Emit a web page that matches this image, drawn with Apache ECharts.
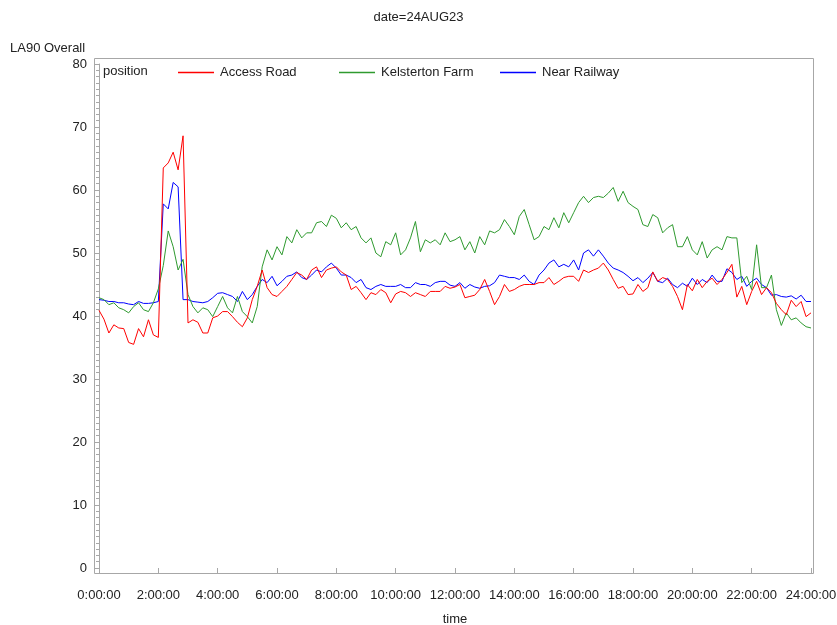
<!DOCTYPE html>
<html>
<head>
<meta charset="utf-8">
<script src="https://cdn.jsdelivr.net/npm/echarts@6/dist/echarts.min.js"></script>
<style>
  html, body { margin: 0; padding: 0; background: #fff; }
  #chart { width: 837px; height: 625px; }
</style>
</head>
<body>
<div id="chart"></div>
<script>
// LA90 readings for 24 Aug 2023, one value every 10 minutes from 0:00 to 24:00
const STEP_MIN = 10;

const accessRoad = [
  40.9, 39.5, 37.3, 38.6, 38.1, 38.0, 35.8, 35.5, 38.0, 36.7, 39.4, 37.0, 36.6,
  63.5, 64.3, 66.0, 63.2, 68.6, 38.9, 39.4, 39.0, 37.3, 37.3, 39.7, 40.0,
  40.7, 40.7, 39.9, 39.0, 38.3, 39.7, 42.6, 44.7, 47.3, 44.5, 43.4, 43.1,
  43.9, 44.7, 45.8, 46.9, 46.5, 45.8, 47.3, 47.8, 46.1, 47.3, 47.6, 47.8,
  47.0, 46.5, 44.2, 44.7, 43.7, 42.6, 43.7, 43.4, 44.2, 43.7, 42.1, 43.5,
  43.9, 43.7, 43.1, 43.7, 43.4, 43.1, 43.9, 43.9, 43.9, 44.7, 44.4, 44.6,
  45.0, 42.9, 43.1, 43.3, 44.2, 45.8, 43.9, 41.8, 43.1, 45.0, 43.9, 44.2,
  44.7, 45.0, 45.0, 45.0, 45.3, 45.3, 46.1, 45.0, 45.5, 46.1, 46.3, 46.3,
  45.5, 47.3, 46.9, 47.3, 47.6, 48.4, 47.3, 45.8, 44.4, 44.7, 43.4, 43.5,
  45.0, 43.9, 44.5, 47.0, 45.5, 46.1, 45.8, 44.7, 43.1, 41.0, 45.0, 44.0,
  45.8, 44.5, 45.5, 46.0, 45.0, 45.8, 46.9, 48.2, 43.0, 44.7, 41.8, 43.9,
  45.5, 43.4, 44.5, 43.7, 42.0, 41.0, 40.2, 42.5, 41.5, 42.3, 39.9, 40.5
];

const kelstertonFarm = [
  42.9, 42.6, 41.8, 42.1, 41.3, 41.0, 40.5, 41.5, 42.1, 41.0, 40.7, 42.1, 44.3,
  48.0, 53.5, 51.0, 47.3, 49.0, 43.4, 41.5, 40.5, 41.3, 41.0, 39.9, 41.5,
  43.1, 41.3, 40.5, 43.1, 40.7, 39.9, 38.9, 41.5, 47.8, 50.5, 48.9, 51.0,
  49.7, 52.6, 51.6, 53.7, 52.4, 53.2, 53.2, 54.8, 55.0, 54.2, 56.0, 55.5,
  54.0, 54.8, 53.7, 54.2, 52.4, 51.6, 52.4, 50.0, 49.4, 51.8, 51.3, 53.2,
  49.7, 50.5, 52.4, 55.0, 50.2, 52.1, 51.6, 52.1, 51.3, 53.2, 51.8, 52.1,
  52.6, 50.5, 51.8, 50.0, 52.6, 51.3, 53.5, 53.2, 53.7, 55.3, 54.2, 52.9,
  55.8, 56.9, 54.5, 52.1, 52.6, 54.2, 53.7, 55.6, 54.0, 56.4, 54.8, 56.4,
  58.0, 59.0, 58.0, 58.8, 59.0, 58.8, 59.5, 60.4, 58.2, 59.8, 58.0, 57.4,
  56.9, 54.5, 54.2, 56.1, 55.6, 53.2, 54.0, 54.5, 51.0, 51.0, 52.6, 50.5,
  49.7, 51.8, 49.2, 50.5, 51.0, 50.5, 52.6, 52.4, 52.4, 45.3, 46.3, 44.2,
  51.3, 44.5, 44.5, 46.5, 41.0, 38.5, 40.5, 39.4, 39.7, 38.9, 38.3, 38.1
];

const nearRailway = [
  42.6, 42.5, 42.3, 42.3, 42.1, 42.1, 41.9, 41.8, 42.3, 42.0, 42.0, 42.1, 42.3,
  57.8, 57.0, 61.2, 60.5, 42.6, 42.6, 42.3, 42.2, 42.1, 42.3, 42.9, 43.6,
  43.7, 43.4, 43.1, 42.3, 43.9, 42.6, 43.4, 44.7, 45.8, 45.3, 46.3, 44.8,
  45.5, 46.3, 46.5, 47.0, 46.1, 45.8, 46.5, 47.3, 47.0, 47.8, 48.4, 47.6,
  46.5, 46.5, 46.1, 45.3, 45.8, 44.5, 44.2, 44.7, 45.0, 44.7, 44.7, 44.7,
  45.0, 44.5, 44.5, 45.3, 45.0, 45.0, 44.7, 45.3, 45.5, 45.5, 44.9, 44.7,
  45.3, 44.4, 45.0, 44.6, 44.4, 44.7, 44.8, 45.3, 46.5, 46.3, 46.1, 46.1,
  45.8, 46.5, 45.5, 45.0, 46.5, 47.3, 48.4, 48.9, 47.8, 48.2, 47.8, 48.9,
  47.3, 50.0, 50.5, 49.5, 50.5, 49.5, 48.4, 47.6, 47.3, 46.9, 46.3, 45.6,
  46.1, 45.3, 46.0, 46.9, 45.5, 45.3, 46.0, 45.0, 44.5, 45.2, 44.7, 46.0,
  45.0, 45.8, 45.3, 46.5, 45.5, 45.5, 47.5, 46.9, 45.8, 46.3, 44.7, 45.5,
  46.0, 45.0, 44.5, 43.3, 43.4, 43.1, 43.0, 43.2, 42.7, 43.3, 42.3, 42.3
];

const seriesNames = ['Access Road', 'Kelsterton Farm', 'Near Railway'];
const seriesColors = ['#ff0000', '#2f9a2f', '#0000ff'];
const hourTicks = [0, 2, 4, 6, 8, 10, 12, 14, 16, 18, 20, 22, 24];

// pair each reading with its time of day in hours
function toPoints(values) {
  return values.map((v, i) => [i * STEP_MIN / 60, v]);
}

const FONT = '"Liberation Sans", Arial, sans-serif';
const TXT = '#222';
const AXIS = '#a7a7a7';

// plot-area layout (pixels)
const G = { left: 99, right: 26, top: 64, bottom: 57 };
const frame = { x: 94.5, y: 58.5, w: 719, h: 515 };
const legendLefts = [173, 334, 495];

const legendBase = {
  top: 61,
  icon: 'rect',
  itemWidth: 36,
  itemHeight: 1.5,
  textStyle: { fontFamily: FONT, fontSize: 13, color: TXT, padding: [0, 0, 0, 1] }
};

const chart = echarts.init(document.getElementById('chart'), null, { renderer: 'canvas' });

chart.setOption({
  animation: false,
  backgroundColor: '#fff',
  title: {
    text: 'date=24AUG23',
    left: 'center',
    top: 6,
    textStyle: { fontFamily: FONT, fontSize: 13, fontWeight: 'normal', color: TXT }
  },
  grid: {
    left: G.left, right: G.right, top: G.top, bottom: G.bottom,
    containLabel: false,
    outerBoundsMode: 'none'
  },
  legend: seriesNames.map((name, i) => Object.assign({}, legendBase, {
    left: legendLefts[i],
    data: [name]
  })),
  xAxis: {
    type: 'value',
    min: 0,
    max: 24,
    interval: 2,
    offset: 6,
    axisLine: { show: false },
    axisTick: { show: true, length: 6, lineStyle: { color: AXIS } },
    axisLabel: {
      margin: 15,
      fontFamily: FONT, fontSize: 13, color: TXT,
      formatter: v => hourTicks.includes(v) ? v + ':00:00' : ''
    },
    splitLine: { show: false },
    name: 'time',
    nameLocation: 'middle',
    nameGap: 39,
    nameTextStyle: { fontFamily: FONT, fontSize: 13, color: TXT }
  },
  yAxis: {
    type: 'value',
    min: 0,
    max: 80,
    interval: 10,
    offset: 5,
    axisLine: { show: true, lineStyle: { color: AXIS } },
    axisTick: { show: true, length: 5, lineStyle: { color: AXIS } },
    minorTick: { show: true, splitNumber: 10, length: 3, lineStyle: { color: AXIS } },
    axisLabel: { margin: 7, fontFamily: FONT, fontSize: 13, color: TXT },
    splitLine: { show: false }
  },
  graphic: [
    {
      type: 'rect',
      silent: true,
      shape: { x: frame.x, y: frame.y, width: frame.w, height: frame.h },
      style: { fill: 'none', stroke: AXIS, lineWidth: 1 },
      z: 10
    },
    {
      type: 'text',
      left: 10,
      top: 42,
      style: { text: 'LA90 Overall', font: '13px ' + FONT, fill: TXT }
    },
    {
      type: 'text',
      left: 103,
      top: 65,
      style: { text: 'position', font: '13px ' + FONT, fill: TXT }
    }
  ],
  series: [accessRoad, kelstertonFarm, nearRailway].map((vals, i) => ({
    name: seriesNames[i],
    type: 'line',
    data: toPoints(vals),
    showSymbol: false,
    symbol: 'none',
    color: seriesColors[i],
    lineStyle: { width: 1, color: seriesColors[i] },
    z: 3 - i
  }))
});
</script>
</body>
</html>
